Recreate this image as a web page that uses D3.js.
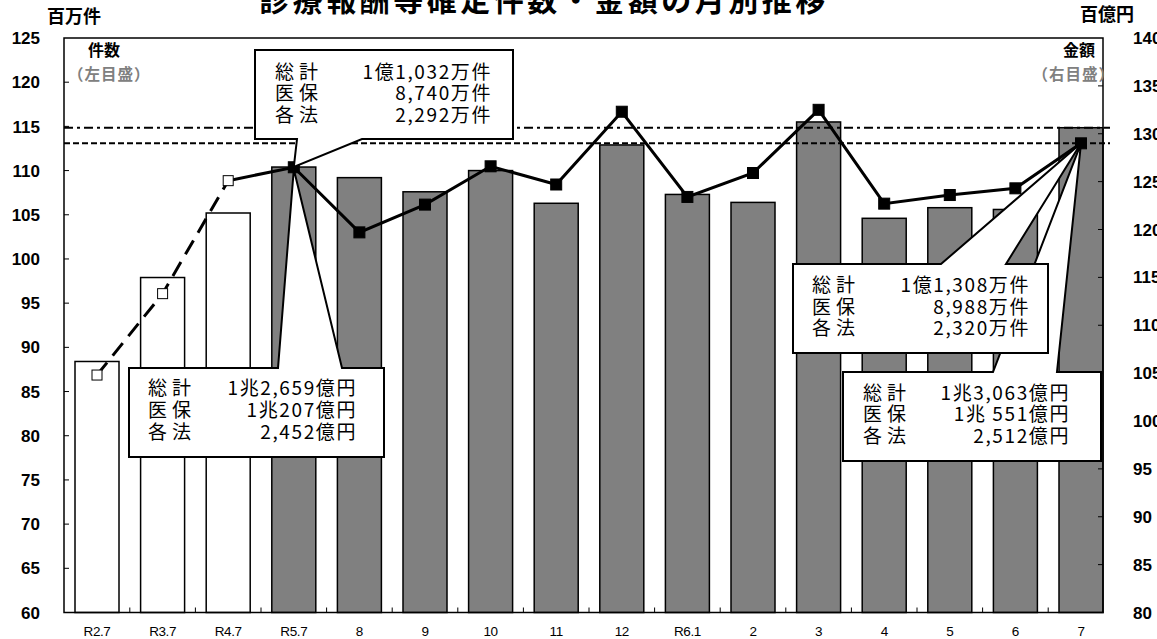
<!DOCTYPE html>
<html>
<head>
<meta charset="utf-8">
<script src="https://cdn.jsdelivr.net/npm/d3@7"></script>
<style>
  body { margin: 0; background: #fff; }
  svg { display: block; }
</style>
</head>
<body>
<div id="chart"></div>
<script>
// データ
const categories = ["R2.7", "R3.7", "R4.7", "R5.7", "8", "9", "10", "11", "12", "R6.1", "2", "3", "4", "5", "6", "7"];
const counts = [88.4, 97.9, 105.2, 110.4, 109.2, 107.6, 110.0, 106.3, 112.9, 107.3, 106.4, 115.5, 104.6, 105.8, 105.6, 114.85]; // 百万件
const amounts = [104.8, 113.3, 125.1, 126.5, 119.7, 122.6, 126.6, 124.7, 132.3, 123.4, 125.9, 132.5, 122.7, 123.6, 124.3, 129.0]; // 百億円
const leftTicks = [60, 65, 70, 75, 80, 85, 90, 95, 100, 105, 110, 115, 120, 125];
const rightTicks = [80, 85, 90, 95, 100, 105, 110, 115, 120, 125, 130, 135, 140];
const openCount = 3; // 最初の3か月は白抜き

const calloutRows = [
  [["総計", "1億1,032万件"], ["医保", "8,740万件"], ["各法", "2,292万件"]],
  [["総計", "1兆2,659億円"], ["医保", "1兆207億円"], ["各法", "2,452億円"]],
  [["総計", "1億1,308万件"], ["医保", "8,988万件"], ["各法", "2,320万件"]],
  [["総計", "1兆3,063億円"], ["医保", "1兆 551億円"], ["各法", "2,512億円"]]
];

const W = 1157, H = 639;
const plot = { left: 64, right: 1103, top: 38, bottom: 612.5 };

const svg = d3.select("#chart").append("svg")
  .attr("width", W).attr("height", H);

const x = d3.scaleBand().domain(categories).range([64.2, 64.2 + 65.6 * 16]);
const yL = d3.scaleLinear().domain([60, 125]).range([plot.bottom, plot.top]);
const yR = d3.scaleLinear().domain([80, 140]).range([plot.bottom, plot.top]);
const cx = d => x(d) + x.bandwidth() / 2;
const barW = 44;

// タイトル
svg.append("text")
  .attr("x", 544).attr("y", 11)
  .attr("text-anchor", "middle")
  .attr("font-family", "Noto Sans CJK JP")
  .attr("font-weight", "bold")
  .attr("font-size", 30)
  .attr("letter-spacing", 3.5)
  .text("診療報酬等確定件数・金額の月別推移");

// 棒（件数）
svg.selectAll(".bar")
  .data(categories)
  .enter().append("rect")
  .attr("x", d => cx(d) - barW / 2)
  .attr("y", (d, i) => yL(counts[i]))
  .attr("width", barW)
  .attr("height", (d, i) => plot.bottom - yL(counts[i]))
  .attr("fill", (d, i) => i < openCount ? "#fff" : "#808080")
  .attr("stroke", "#000")
  .attr("stroke-width", 1.5);

// 基準線（最新月）
svg.append("line")
  .attr("x1", plot.left).attr("x2", 1110)
  .attr("y1", yL(counts[15])).attr("y2", yL(counts[15]))
  .attr("stroke", "#000").attr("stroke-width", 2)
  .attr("stroke-dasharray", "9,4,3,4");
svg.append("line")
  .attr("x1", plot.left).attr("x2", 1110)
  .attr("y1", yR(amounts[15])).attr("y2", yR(amounts[15]))
  .attr("stroke", "#000").attr("stroke-width", 2)
  .attr("stroke-dasharray", "6,3");

// 枠
svg.append("rect")
  .attr("x", plot.left).attr("y", plot.top)
  .attr("width", plot.right - plot.left).attr("height", plot.bottom - plot.top)
  .attr("fill", "none").attr("stroke", "#000").attr("stroke-width", 1.5);

// 目盛り線
svg.selectAll(".lt").data(leftTicks.slice(1, -1)).enter().append("line")
  .attr("x1", plot.left).attr("x2", plot.left + 5)
  .attr("y1", d => yL(d)).attr("y2", d => yL(d))
  .attr("stroke", "#000");
svg.selectAll(".rt").data(rightTicks.slice(1, -1)).enter().append("line")
  .attr("x1", plot.right).attr("x2", plot.right - 5)
  .attr("y1", d => yR(d)).attr("y2", d => yR(d))
  .attr("stroke", "#000");
svg.selectAll(".xt").data(categories.slice(1)).enter().append("line")
  .attr("x1", d => x(d)).attr("x2", d => x(d))
  .attr("y1", plot.bottom).attr("y2", plot.bottom - 5)
  .attr("stroke", "#000");

// 目盛りラベル
svg.selectAll(".ll").data(leftTicks).enter().append("text")
  .attr("x", 40).attr("y", d => yL(d)).attr("dy", "0.36em")
  .attr("text-anchor", "end")
  .attr("font-family", "Liberation Sans").attr("font-weight", "bold").attr("font-size", 17)
  .text(d => d);
svg.selectAll(".rl").data(rightTicks).enter().append("text")
  .attr("x", 1133).attr("y", d => yR(d)).attr("dy", "0.36em")
  .attr("font-family", "Liberation Sans").attr("font-weight", "bold").attr("font-size", 17)
  .text(d => d);
svg.selectAll(".xl").data(categories).enter().append("text")
  .attr("x", d => cx(d)).attr("y", 631).attr("dy", "0.35em")
  .attr("text-anchor", "middle")
  .attr("font-family", "Liberation Sans").attr("font-size", 13.5)
  .attr("letter-spacing", -0.4)
  .text(d => d);

// 単位・凡例
const jp = "Noto Sans CJK JP";
svg.append("text").attr("x", 47).attr("y", 17).attr("dy", "0.35em")
  .attr("font-family", jp).attr("font-weight", "bold").attr("font-size", 18).text("百万件");
svg.append("text").attr("x", 1080).attr("y", 15).attr("dy", "0.35em")
  .attr("font-family", jp).attr("font-weight", "bold").attr("font-size", 18).text("百億円");
svg.append("text").attr("x", 88).attr("y", 50).attr("dy", "0.35em")
  .attr("font-family", jp).attr("font-weight", "bold").attr("font-size", 16).text("件数");
svg.append("text").attr("x", 68).attr("y", 75).attr("dy", "0.35em")
  .attr("font-family", jp).attr("font-weight", "bold").attr("font-size", 15.5)
  .attr("letter-spacing", 1)
  .attr("fill", "#808080").text("（左目盛）");
svg.append("text").attr("x", 1095).attr("y", 50).attr("dy", "0.35em").attr("text-anchor", "end")
  .attr("font-family", jp).attr("font-weight", "bold").attr("font-size", 16).text("金額");
svg.append("text").attr("x", 1115).attr("y", 75).attr("dy", "0.35em").attr("text-anchor", "end")
  .attr("font-family", jp).attr("font-weight", "bold").attr("font-size", 15.5)
  .attr("letter-spacing", 1)
  .attr("fill", "#808080").text("（右目盛）");

// 折れ線（金額）
const line = d3.line()
  .x(d => cx(d.cat))
  .y(d => yR(d.v));
const pts = categories.map((c, i) => ({ cat: c, v: amounts[i] }));

svg.append("path")
  .datum(pts.slice(0, openCount))
  .attr("fill", "none").attr("stroke", "#000").attr("stroke-width", 3)
  .attr("stroke-dasharray", "16,9")
  .attr("d", line);
svg.append("path")
  .datum(pts.slice(openCount - 1))
  .attr("fill", "none").attr("stroke", "#000").attr("stroke-width", 3)
  .attr("stroke-linejoin", "miter")
  .attr("d", line);

svg.selectAll(".mk").data(pts).enter().append("rect")
  .attr("x", (d, i) => cx(d.cat) - (i < openCount ? 5 : 5.5))
  .attr("y", (d, i) => yR(d.v) - (i < openCount ? 5 : 5.5))
  .attr("width", (d, i) => i < openCount ? 10 : 11)
  .attr("height", (d, i) => i < openCount ? 10 : 11)
  .attr("fill", (d, i) => i < openCount ? "#fff" : "#000")
  .attr("stroke", "#000").attr("stroke-width", 1);

// 吹き出し
function callout(box, side, a, b, tip, rows, labelX, valueX, rowY) {
  const [x0, y0, x1, y1] = box;
  let p;
  if (side === "bottom") {
    p = `M${x0},${y0}L${x1},${y0}L${x1},${y1}L${b},${y1}L${tip[0]},${tip[1]}L${a},${y1}L${x0},${y1}Z`;
  } else {
    p = `M${x0},${y0}L${a},${y0}L${tip[0]},${tip[1]}L${b},${y0}L${x1},${y0}L${x1},${y1}L${x0},${y1}Z`;
  }
  const g = svg.append("g");
  g.append("path").attr("d", p)
    .attr("fill", "#fff").attr("stroke", "#000").attr("stroke-width", 2)
    .attr("stroke-linejoin", "miter");
  rows.forEach((r, k) => {
    g.append("text").attr("x", labelX).attr("y", rowY[k]).attr("dy", "0.36em")
      .attr("font-family", jp).attr("font-size", 19).attr("letter-spacing", 5)
      .text(r[0]);
    g.append("text").attr("x", valueX).attr("y", rowY[k]).attr("dy", "0.36em")
      .attr("text-anchor", "end")
      .attr("font-family", jp).attr("font-size", 19).attr("letter-spacing", 1.6)
      .text(r[1]);
  });
}

const i57 = 3, i7 = 15;
callout([255, 50, 513, 139], "bottom", 297, 362,
  [cx(categories[i57]), yL(counts[i57])], calloutRows[0], 275, 492, [71.7, 93.3, 115]);
callout([129, 368, 384, 457], "top", 278, 342,
  [cx(categories[i57]), yR(amounts[i57]) + 2], calloutRows[1], 148, 357, [388, 410, 432]);
// 金額の吹き出しを先に描き、件数の吹き出しを上に重ねる
callout([843, 372, 1101, 461], "top", 993, 1057,
  [cx(categories[i7]), yR(amounts[i7])], calloutRows[3], 863, 1070, [392.7, 414.3, 436]);
callout([793, 264, 1048, 353], "top", 941, 1006,
  [cx(categories[i7]), yR(amounts[i7])], calloutRows[2], 812, 1030, [285, 306.7, 328.3]);
</script>
</body>
</html>
